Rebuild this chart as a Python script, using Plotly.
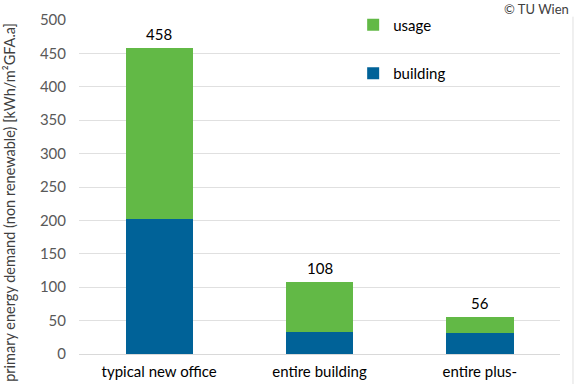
import plotly.graph_objects as go

categories = ["typical new office", "entire building", "entire plus-"]
building = [202, 33, 31]
usage = [256, 75, 25]
totals = [458, 108, 56]
y_ticks = [0, 50, 100, 150, 200, 250, 300, 350, 400, 450, 500]

BLUE = "#006298"
GREEN = "#62B946"
FONT = "Lato, Carlito, sans-serif"

fig = go.Figure()
fig.add_trace(go.Bar(x=categories, y=building, name="building", marker_color=BLUE,
                     marker_line_width=0, legend="legend2", width=0.42))
fig.add_trace(go.Bar(x=categories, y=usage, name="usage", marker_color=GREEN,
                     marker_line_width=0, legend="legend", width=0.42))

for c, t in zip(categories, totals):
    fig.add_annotation(x=c, y=t, text=str(t), showarrow=False, yanchor="bottom",
                       yshift=3, font=dict(size=15, color="#000000", family=FONT))

fig.update_layout(
    width=575, height=384,
    margin=dict(l=79, r=15, t=20, b=30, autoexpand=False),
    barmode="stack",
    plot_bgcolor="white", paper_bgcolor="white",
    font=dict(family=FONT, size=15, color="#595959"),
    xaxis=dict(showgrid=False, tickfont=dict(color="#000000", size=15), ticks="",
               showline=True, linecolor="#d9d9d9", linewidth=1, automargin=False,
               ticklabelstandoff=4),
    yaxis=dict(range=[0, 500], tickvals=y_ticks, showgrid=True, gridcolor="#e0e0e0",
               gridwidth=1, zeroline=False, tickfont=dict(color="#595959", size=15),
               ticklabelstandoff=12, automargin=False),
    legend=dict(x=0.57, y=0.985, xanchor="left", yanchor="middle", bgcolor="rgba(0,0,0,0)",
                font=dict(size=15, color="#000000"), itemwidth=30),
    legend2=dict(x=0.57, y=0.84, xanchor="left", yanchor="middle", bgcolor="rgba(0,0,0,0)",
                 font=dict(size=15, color="#000000"), itemwidth=30),
    showlegend=True,
)

fig.add_annotation(text="primary energy demand (non renewable) [kWh/m²GFA.a]",
                   xref="paper", yref="paper", x=-0.146, y=0.455, textangle=-90,
                   showarrow=False, xanchor="center", yanchor="middle",
                   font=dict(size=14.5, color="#404040", family=FONT))
fig.add_annotation(text="© TU Wien", xref="paper", yref="paper", x=1.023, y=1.034,
                   xanchor="right", yanchor="middle", showarrow=False,
                   font=dict(size=13, color="#404040", family=FONT))
fig.add_shape(type="line", xref="paper", yref="paper", x0=1.027, x1=1.027,
              y0=1.01, y1=-0.1, line=dict(color="#e0e0e0", width=1))

fig.write_html("out.html", config={"displayModeBar": False},
               post_script="document.body.style.margin='0';")
